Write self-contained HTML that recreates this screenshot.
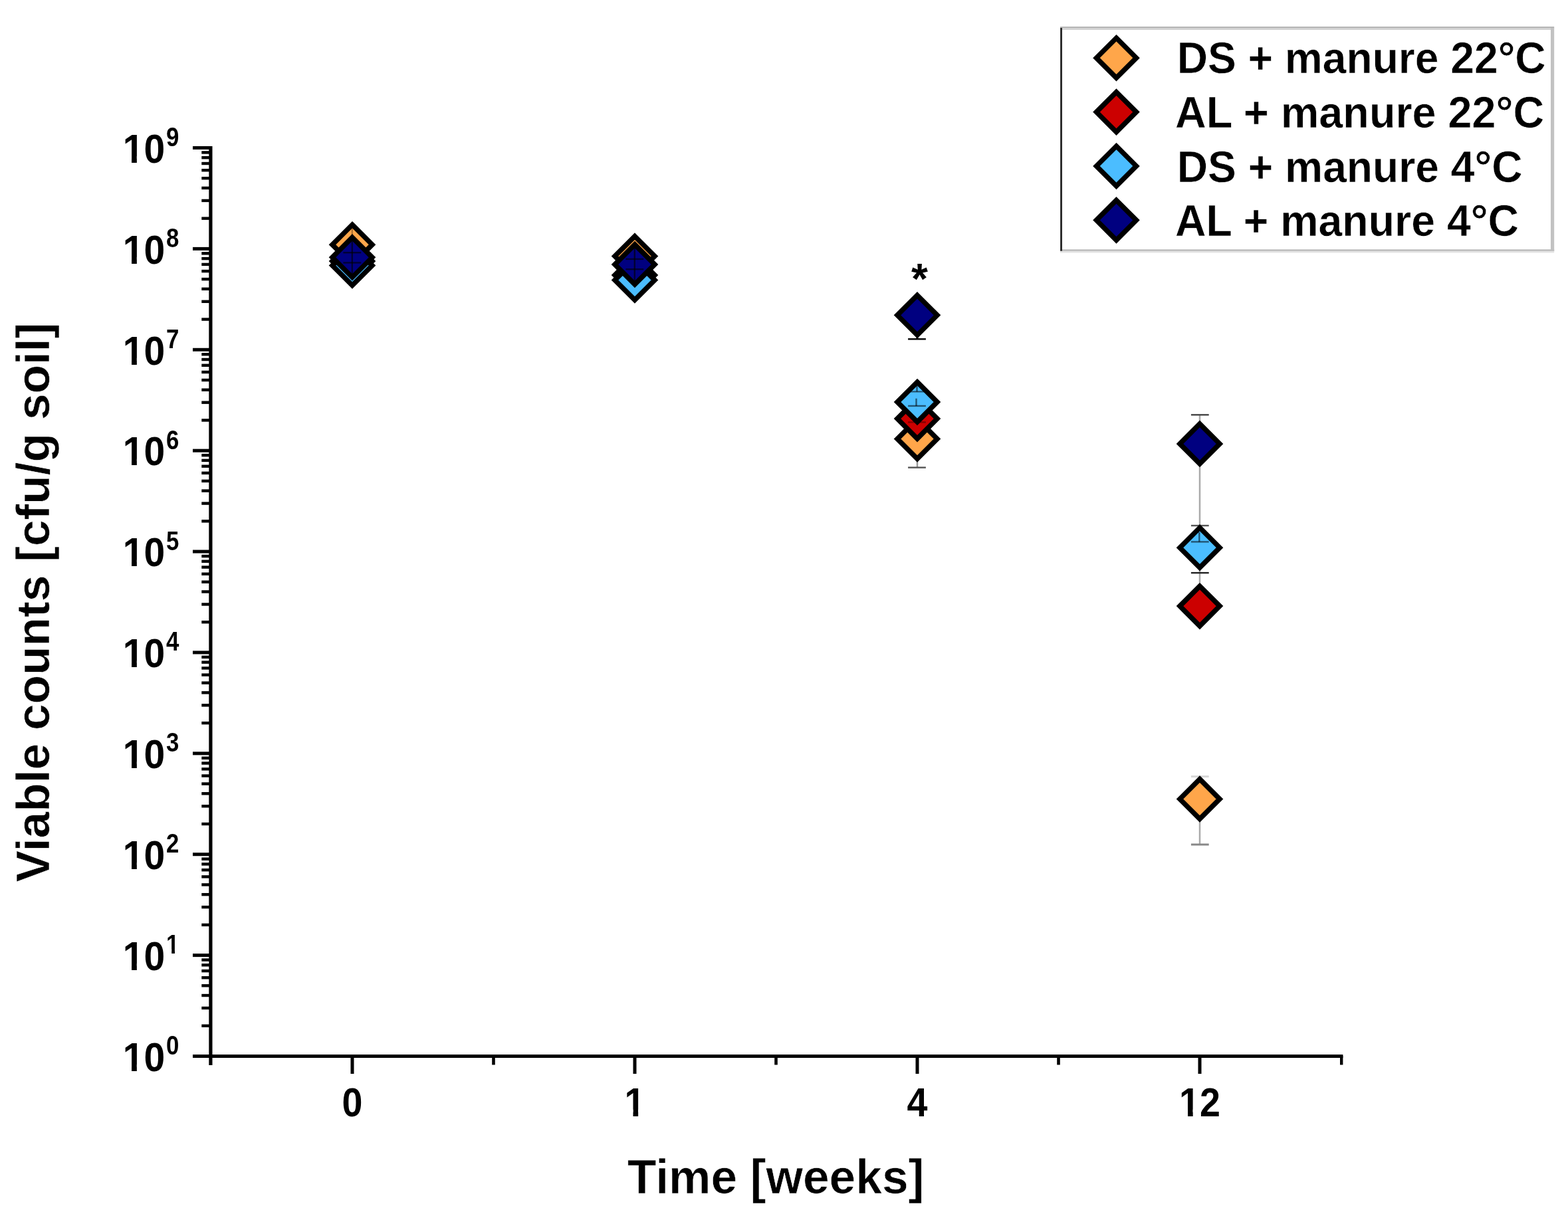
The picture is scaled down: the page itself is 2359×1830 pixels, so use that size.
<!DOCTYPE html>
<html><head><meta charset="utf-8"><title>Viable counts chart</title>
<style>html,body{margin:0;padding:0;background:#fff;}body{width:2359px;height:1830px;overflow:hidden;}svg{display:block;}</style>
</head><body>
<svg width="2359" height="1830" viewBox="0 0 2359 1830" font-family='"Liberation Sans", Arial, sans-serif' font-weight="bold">
<rect x="0" y="0" width="2359" height="1830" fill="#fff"/>
<g fill="#000">
<rect x="314.3" y="220" width="5.2" height="1383"/>
<rect x="290" y="1587.00" width="27" height="5"/>
<rect x="303.3" y="1541.58" width="14" height="4.4"/>
<rect x="303.3" y="1514.83" width="14" height="4.4"/>
<rect x="303.3" y="1495.85" width="14" height="4.4"/>
<rect x="303.3" y="1481.13" width="14" height="4.4"/>
<rect x="303.3" y="1469.11" width="14" height="4.4"/>
<rect x="303.3" y="1458.94" width="14" height="4.4"/>
<rect x="303.3" y="1450.13" width="14" height="4.4"/>
<rect x="303.3" y="1442.36" width="14" height="4.4"/>
<rect x="290" y="1435.11" width="27" height="5"/>
<rect x="303.3" y="1389.69" width="14" height="4.4"/>
<rect x="303.3" y="1362.94" width="14" height="4.4"/>
<rect x="303.3" y="1343.96" width="14" height="4.4"/>
<rect x="303.3" y="1329.24" width="14" height="4.4"/>
<rect x="303.3" y="1317.22" width="14" height="4.4"/>
<rect x="303.3" y="1307.05" width="14" height="4.4"/>
<rect x="303.3" y="1298.24" width="14" height="4.4"/>
<rect x="303.3" y="1290.47" width="14" height="4.4"/>
<rect x="290" y="1283.22" width="27" height="5"/>
<rect x="303.3" y="1237.80" width="14" height="4.4"/>
<rect x="303.3" y="1211.05" width="14" height="4.4"/>
<rect x="303.3" y="1192.07" width="14" height="4.4"/>
<rect x="303.3" y="1177.35" width="14" height="4.4"/>
<rect x="303.3" y="1165.33" width="14" height="4.4"/>
<rect x="303.3" y="1155.16" width="14" height="4.4"/>
<rect x="303.3" y="1146.35" width="14" height="4.4"/>
<rect x="303.3" y="1138.58" width="14" height="4.4"/>
<rect x="290" y="1131.33" width="27" height="5"/>
<rect x="303.3" y="1085.91" width="14" height="4.4"/>
<rect x="303.3" y="1059.16" width="14" height="4.4"/>
<rect x="303.3" y="1040.18" width="14" height="4.4"/>
<rect x="303.3" y="1025.46" width="14" height="4.4"/>
<rect x="303.3" y="1013.44" width="14" height="4.4"/>
<rect x="303.3" y="1003.27" width="14" height="4.4"/>
<rect x="303.3" y="994.46" width="14" height="4.4"/>
<rect x="303.3" y="986.69" width="14" height="4.4"/>
<rect x="290" y="979.44" width="27" height="5"/>
<rect x="303.3" y="934.02" width="14" height="4.4"/>
<rect x="303.3" y="907.27" width="14" height="4.4"/>
<rect x="303.3" y="888.29" width="14" height="4.4"/>
<rect x="303.3" y="873.57" width="14" height="4.4"/>
<rect x="303.3" y="861.55" width="14" height="4.4"/>
<rect x="303.3" y="851.38" width="14" height="4.4"/>
<rect x="303.3" y="842.57" width="14" height="4.4"/>
<rect x="303.3" y="834.80" width="14" height="4.4"/>
<rect x="290" y="827.55" width="27" height="5"/>
<rect x="303.3" y="782.13" width="14" height="4.4"/>
<rect x="303.3" y="755.38" width="14" height="4.4"/>
<rect x="303.3" y="736.40" width="14" height="4.4"/>
<rect x="303.3" y="721.68" width="14" height="4.4"/>
<rect x="303.3" y="709.66" width="14" height="4.4"/>
<rect x="303.3" y="699.49" width="14" height="4.4"/>
<rect x="303.3" y="690.68" width="14" height="4.4"/>
<rect x="303.3" y="682.91" width="14" height="4.4"/>
<rect x="290" y="675.66" width="27" height="5"/>
<rect x="303.3" y="630.24" width="14" height="4.4"/>
<rect x="303.3" y="603.49" width="14" height="4.4"/>
<rect x="303.3" y="584.51" width="14" height="4.4"/>
<rect x="303.3" y="569.79" width="14" height="4.4"/>
<rect x="303.3" y="557.77" width="14" height="4.4"/>
<rect x="303.3" y="547.60" width="14" height="4.4"/>
<rect x="303.3" y="538.79" width="14" height="4.4"/>
<rect x="303.3" y="531.02" width="14" height="4.4"/>
<rect x="290" y="523.77" width="27" height="5"/>
<rect x="303.3" y="478.35" width="14" height="4.4"/>
<rect x="303.3" y="451.60" width="14" height="4.4"/>
<rect x="303.3" y="432.62" width="14" height="4.4"/>
<rect x="303.3" y="417.90" width="14" height="4.4"/>
<rect x="303.3" y="405.88" width="14" height="4.4"/>
<rect x="303.3" y="395.71" width="14" height="4.4"/>
<rect x="303.3" y="386.90" width="14" height="4.4"/>
<rect x="303.3" y="379.13" width="14" height="4.4"/>
<rect x="290" y="371.88" width="27" height="5"/>
<rect x="303.3" y="326.46" width="14" height="4.4"/>
<rect x="303.3" y="299.71" width="14" height="4.4"/>
<rect x="303.3" y="280.73" width="14" height="4.4"/>
<rect x="303.3" y="266.01" width="14" height="4.4"/>
<rect x="303.3" y="253.99" width="14" height="4.4"/>
<rect x="303.3" y="243.82" width="14" height="4.4"/>
<rect x="303.3" y="235.01" width="14" height="4.4"/>
<rect x="303.3" y="227.24" width="14" height="4.4"/>
<rect x="290" y="219.99" width="27" height="5"/>
<rect x="290" y="1587" width="1730.4" height="5"/>
<rect x="527.5" y="1589" width="5" height="27"/>
<rect x="952.5" y="1589" width="5" height="27"/>
<rect x="1377.5" y="1589" width="5" height="27"/>
<rect x="1802.5" y="1589" width="5" height="27"/>
<rect x="740.2" y="1589" width="4.6" height="13.5"/>
<rect x="1165.2" y="1589" width="4.6" height="13.5"/>
<rect x="1590.2" y="1589" width="4.6" height="13.5"/>
<rect x="2016" y="1589" width="4.4" height="13.5"/>
</g>
<text transform="translate(184.71,1611.80) scale(0.935,1)" font-size="61">10</text>
<text transform="translate(250.08,1587.00) scale(0.87,1)" font-size="40">0</text>
<text transform="translate(184.71,1459.91) scale(0.935,1)" font-size="61">10</text>
<text transform="translate(250.08,1435.11) scale(0.87,1)" font-size="40">1</text>
<text transform="translate(184.71,1308.02) scale(0.935,1)" font-size="61">10</text>
<text transform="translate(250.08,1283.22) scale(0.87,1)" font-size="40">2</text>
<text transform="translate(184.71,1156.13) scale(0.935,1)" font-size="61">10</text>
<text transform="translate(250.08,1131.33) scale(0.87,1)" font-size="40">3</text>
<text transform="translate(184.71,1004.24) scale(0.935,1)" font-size="61">10</text>
<text transform="translate(250.08,979.44) scale(0.87,1)" font-size="40">4</text>
<text transform="translate(184.71,852.35) scale(0.935,1)" font-size="61">10</text>
<text transform="translate(250.08,827.55) scale(0.87,1)" font-size="40">5</text>
<text transform="translate(184.71,700.46) scale(0.935,1)" font-size="61">10</text>
<text transform="translate(250.08,675.66) scale(0.87,1)" font-size="40">6</text>
<text transform="translate(184.71,548.57) scale(0.935,1)" font-size="61">10</text>
<text transform="translate(250.08,523.77) scale(0.87,1)" font-size="40">7</text>
<text transform="translate(184.71,396.68) scale(0.935,1)" font-size="61">10</text>
<text transform="translate(250.08,371.88) scale(0.87,1)" font-size="40">8</text>
<text transform="translate(184.71,244.79) scale(0.935,1)" font-size="61">10</text>
<text transform="translate(250.08,219.99) scale(0.87,1)" font-size="40">9</text>
<text transform="translate(530,1679.5) scale(0.92,1)" font-size="60.5" text-anchor="middle">0</text>
<text transform="translate(955,1679.5) scale(0.92,1)" font-size="60.5" text-anchor="middle">1</text>
<text transform="translate(1380,1679.5) scale(0.92,1)" font-size="60.5" text-anchor="middle">4</text>
<text transform="translate(1805,1679.5) scale(0.92,1)" font-size="60.5" text-anchor="middle">12</text>
<text transform="translate(944.02,1796.20) scale(0.9763,1)" font-size="73" stroke="#fff" stroke-width="0.615">Time [weeks]</text>
<text transform="translate(74.20,1327.40) rotate(-90) scale(1.0179,1)" font-size="70" stroke="#fff" stroke-width="0.589">Viable counts [cfu/g soil]</text>
<g>
<rect x="1595" y="40" width="743" height="338" fill="#fff"/>
<rect x="1595" y="40" width="743.2" height="2.5" fill="#b5b5b5"/>
<rect x="1598" y="42.5" width="740" height="2.4" fill="#d0d0d0"/>
<rect x="2333" y="42" width="5.2" height="336" fill="#c2c2c2"/>
<rect x="1595" y="375.2" width="743.2" height="3" fill="#c0c0c0"/>
<rect x="1595" y="378.2" width="743.2" height="2.3" fill="#e4e4e4"/>
<rect x="1595.1" y="42" width="2.9" height="335.7" fill="#2a2a2a"/>
</g>
<path d="M1679.5 57.2L1709.5 87.2L1679.5 117.2L1649.5 87.2Z" fill="#FFA64A" stroke="#000" stroke-width="7.5" stroke-linejoin="miter"/>
<text transform="translate(1770.65,110.45) scale(0.9504,1)" font-size="67.5" stroke="#fff" stroke-width="0.526">DS + manure 22°C</text>
<path d="M1679.5 138.57999999999998L1709.5 168.57999999999998L1679.5 198.57999999999998L1649.5 168.57999999999998Z" fill="#CC0000" stroke="#000" stroke-width="7.5" stroke-linejoin="miter"/>
<text transform="translate(1768.03,192.05) scale(0.9587,1)" font-size="67.5" stroke="#fff" stroke-width="0.522">AL + manure 22°C</text>
<path d="M1679.5 219.95999999999998L1709.5 249.95999999999998L1679.5 279.96L1649.5 249.95999999999998Z" fill="#4BBDFF" stroke="#000" stroke-width="7.5" stroke-linejoin="miter"/>
<text transform="translate(1770.75,273.65) scale(0.9513,1)" font-size="67.5" stroke="#fff" stroke-width="0.526">DS + manure 4°C</text>
<path d="M1679.5 301.34L1709.5 331.34L1679.5 361.34L1649.5 331.34Z" fill="#000080" stroke="#000" stroke-width="7.5" stroke-linejoin="miter"/>
<text transform="translate(1768.04,355.25) scale(0.9549,1)" font-size="67.5" stroke="#fff" stroke-width="0.524">AL + manure 4°C</text>
<rect x="1378.50" y="474.00" width="3" height="36.30" fill="#000"/>
<rect x="1366.10" y="509.10" width="26.80" height="2.4" fill="#000"/>
<rect x="1378.75" y="660.00" width="2.5" height="43.60" fill="#999"/>
<rect x="1366.10" y="702.40" width="26.80" height="2.4" fill="#555"/>
<rect x="1803.75" y="624.30" width="2.5" height="43.60" fill="#aaa"/>
<rect x="1791.90" y="623.10" width="26.80" height="2.4" fill="#444"/>
<rect x="1803.75" y="667.90" width="2.5" height="123.10" fill="#aaa"/>
<rect x="1791.90" y="789.80" width="26.80" height="2.4" fill="#555"/>
<rect x="1803.75" y="824.20" width="2.5" height="52.80" fill="#aaa"/>
<rect x="1791.90" y="860.90" width="26.80" height="2.4" fill="#222"/>
<rect x="1803.75" y="1168.60" width="2.5" height="102.40" fill="#aaa"/>
<rect x="1791.90" y="1167.10" width="26.80" height="3" fill="#d8d8d8"/>
<rect x="1791.90" y="1269.50" width="26.80" height="3" fill="#888"/>
<path d="M530 338.2L560 368.2L530 398.2L500 368.2Z" fill="#FFA64A" stroke="#000" stroke-width="7.5" stroke-linejoin="miter"/>
<path d="M955 355.6L985 385.6L955 415.6L925 385.6Z" fill="#FFA64A" stroke="#000" stroke-width="7.5" stroke-linejoin="miter"/>
<path d="M1380 630.5L1410 660.5L1380 690.5L1350 660.5Z" fill="#FFA64A" stroke="#000" stroke-width="7.5" stroke-linejoin="miter"/>
<path d="M1805 1172.5L1835 1202.5L1805 1232.5L1775 1202.5Z" fill="#FFA64A" stroke="#000" stroke-width="7.5" stroke-linejoin="miter"/>
<path d="M530 363L560 393L530 423L500 393Z" fill="#CC0000" stroke="#000" stroke-width="7.5" stroke-linejoin="miter"/>
<path d="M955 384L985 414L955 444L925 414Z" fill="#CC0000" stroke="#000" stroke-width="7.5" stroke-linejoin="miter"/>
<path d="M1380 600.1L1410 630.1L1380 660.1L1350 630.1Z" fill="#CC0000" stroke="#000" stroke-width="7.5" stroke-linejoin="miter"/>
<path d="M1805 882.1L1835 912.1L1805 942.1L1775 912.1Z" fill="#CC0000" stroke="#000" stroke-width="7.5" stroke-linejoin="miter"/>
<path d="M530 369.5L560 399.5L530 429.5L500 399.5Z" fill="#4BBDFF" stroke="#000" stroke-width="7.5" stroke-linejoin="miter"/>
<path d="M955 391.5L985 421.5L955 451.5L925 421.5Z" fill="#4BBDFF" stroke="#000" stroke-width="7.5" stroke-linejoin="miter"/>
<path d="M1380 575L1410 605L1380 635L1350 605Z" fill="#4BBDFF" stroke="#000" stroke-width="7.5" stroke-linejoin="miter"/>
<path d="M1805 794.2L1835 824.2L1805 854.2L1775 824.2Z" fill="#4BBDFF" stroke="#000" stroke-width="7.5" stroke-linejoin="miter"/>
<path d="M530 357.3L560 387.3L530 417.3L500 387.3Z" fill="#000080" stroke="#000" stroke-width="7.5" stroke-linejoin="miter"/>
<path d="M955 368L985 398L955 428L925 398Z" fill="#000080" stroke="#000" stroke-width="7.5" stroke-linejoin="miter"/>
<path d="M1380 444.3L1410 474.3L1380 504.3L1350 474.3Z" fill="#000080" stroke="#000" stroke-width="7.5" stroke-linejoin="miter"/>
<path d="M1805 637.9L1835 667.9L1805 697.9L1775 667.9Z" fill="#000080" stroke="#000" stroke-width="7.5" stroke-linejoin="miter"/>
<rect x="1378.30" y="580.70" width="2.4" height="8.70" fill="rgba(0,0,0,0.55)"/>
<rect x="1367.50" y="588.30" width="23.00" height="2.2" fill="rgba(0,0,0,0.55)"/>
<rect x="1377.30" y="599.70" width="2.4" height="11.20" fill="rgba(0,0,0,0.55)"/>
<rect x="1366.10" y="609.70" width="26.80" height="2.4" fill="rgba(0,0,0,0.55)"/>
<rect x="1366.10" y="634.20" width="26.80" height="2.4" fill="rgba(0,0,0,0.35)"/>
<rect x="1803.10" y="801.00" width="2.4" height="14.40" fill="rgba(0,0,0,0.55)"/>
<rect x="1791.90" y="814.20" width="26.80" height="2.4" fill="rgba(0,0,0,0.55)"/>
<rect x="528.60" y="361.00" width="2.4" height="51.00" fill="rgba(0,0,0,0.6)"/>
<rect x="516.40" y="379.00" width="26.80" height="2.4" fill="rgba(0,0,0,0.6)"/>
<rect x="516.40" y="394.20" width="26.80" height="2.4" fill="rgba(0,0,0,0.6)"/>
<rect x="528.60" y="343.40" width="2.4" height="12.60" fill="rgba(0,0,0,0.3)"/>
<rect x="953.60" y="372.00" width="2.4" height="53.00" fill="rgba(0,0,0,0.6)"/>
<rect x="941.40" y="388.70" width="26.80" height="2.4" fill="rgba(0,0,0,0.6)"/>
<rect x="941.40" y="404.00" width="26.80" height="2.4" fill="rgba(0,0,0,0.6)"/>
<rect x="187.49" y="1601.97" width="10.53" height="11.83" fill="#fff"/>
<rect x="205.84" y="1601.97" width="10.89" height="11.83" fill="#fff"/>
<rect x="187.49" y="1450.08" width="10.53" height="11.83" fill="#fff"/>
<rect x="205.84" y="1450.08" width="10.89" height="11.83" fill="#fff"/>
<rect x="251.78" y="1428.66" width="6.42" height="8.45" fill="#fff"/>
<rect x="262.97" y="1428.66" width="6.64" height="8.45" fill="#fff"/>
<rect x="187.49" y="1298.19" width="10.53" height="11.83" fill="#fff"/>
<rect x="205.84" y="1298.19" width="10.89" height="11.83" fill="#fff"/>
<rect x="187.49" y="1146.30" width="10.53" height="11.83" fill="#fff"/>
<rect x="205.84" y="1146.30" width="10.89" height="11.83" fill="#fff"/>
<rect x="187.49" y="994.41" width="10.53" height="11.83" fill="#fff"/>
<rect x="205.84" y="994.41" width="10.89" height="11.83" fill="#fff"/>
<rect x="187.49" y="842.52" width="10.53" height="11.83" fill="#fff"/>
<rect x="205.84" y="842.52" width="10.89" height="11.83" fill="#fff"/>
<rect x="187.49" y="690.63" width="10.53" height="11.83" fill="#fff"/>
<rect x="205.84" y="690.63" width="10.89" height="11.83" fill="#fff"/>
<rect x="187.49" y="538.74" width="10.53" height="11.83" fill="#fff"/>
<rect x="205.84" y="538.74" width="10.89" height="11.83" fill="#fff"/>
<rect x="187.49" y="386.85" width="10.53" height="11.83" fill="#fff"/>
<rect x="205.84" y="386.85" width="10.89" height="11.83" fill="#fff"/>
<rect x="187.49" y="234.96" width="10.53" height="11.83" fill="#fff"/>
<rect x="205.84" y="234.96" width="10.89" height="11.83" fill="#fff"/>
<rect x="942.24" y="1669.75" width="10.27" height="11.75" fill="#fff"/>
<rect x="960.15" y="1669.75" width="10.63" height="11.75" fill="#fff"/>
<rect x="1776.76" y="1669.75" width="10.27" height="11.75" fill="#fff"/>
<rect x="1794.67" y="1669.75" width="10.63" height="11.75" fill="#fff"/>
<text transform="translate(1371,441.6)" font-size="64">*</text>
</svg>
</body></html>
